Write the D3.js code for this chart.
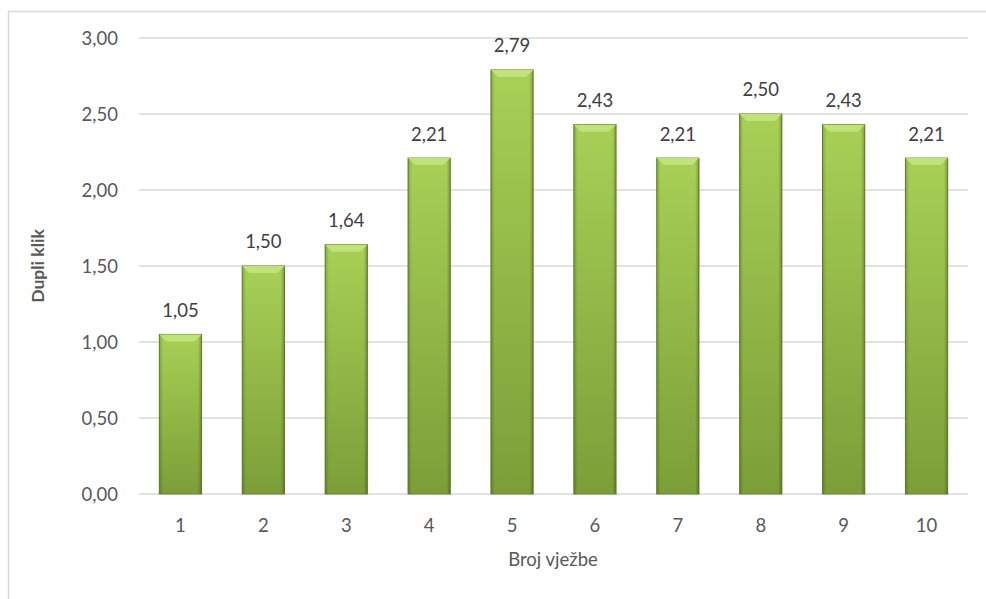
<!DOCTYPE html>
<html><head><meta charset="utf-8">
<script src="https://cdn.jsdelivr.net/npm/d3@7"></script>
<style>body{margin:0;background:#fff}svg{display:block}text{font-family:Lato,"Open Sans",sans-serif}</style>
</head><body>
<svg id="c" width="986" height="599"></svg>
<script>
const categories = ["1","2","3","4","5","6","7","8","9","10"];
const values = [1.05, 1.50, 1.64, 2.21, 2.79, 2.43, 2.21, 2.50, 2.43, 2.21];
const yTicks = [0, 0.5, 1, 1.5, 2, 2.5, 3];
const xTitle = "Broj vježbe";
const yTitle = "Dupli klik";

const svg = d3.select("#c");
const m = {l:139, r:968, t:38, b:494};
const fmt = v => d3.format(".2f")(v).replace(".", ",");
const FS = 18.5;

svg.append("rect").attr("x",8.5).attr("y",11.5).attr("width",1000).attr("height",1000)
  .attr("fill","#fff").attr("stroke","#d9d9d9").attr("stroke-width",1.5);

const x = d3.scaleBand().domain(categories).range([m.l, m.r]).paddingInner(0.49).paddingOuter(0.245);
const y = d3.scaleLinear().domain([0,3]).range([m.b, m.t]);

const defs = svg.append("defs");
const g1 = defs.append("linearGradient").attr("id","gv").attr("x1",0).attr("y1",0).attr("x2",0).attr("y2",1);
g1.append("stop").attr("offset","0%").attr("stop-color","#a8d056");
g1.append("stop").attr("offset","100%").attr("stop-color","#7c9e38");
const g2 = defs.append("linearGradient").attr("id","gh").attr("x1",0).attr("y1",0).attr("x2",1).attr("y2",0);
g2.append("stop").attr("offset","0%").attr("stop-color","#000").attr("stop-opacity",0.2);
g2.append("stop").attr("offset","9%").attr("stop-color","#000").attr("stop-opacity",0);
g2.append("stop").attr("offset","91%").attr("stop-color","#000").attr("stop-opacity",0);
g2.append("stop").attr("offset","100%").attr("stop-color","#000").attr("stop-opacity",0.25);

// gridlines
svg.append("g").selectAll("line").data(yTicks).join("line")
  .attr("x1",m.l).attr("x2",m.r).attr("y1",d=>y(d)).attr("y2",d=>y(d))
  .attr("stroke","#d9d9d9").attr("stroke-width",1.5);

// y labels
svg.append("g").selectAll("text").data(yTicks).join("text")
  .attr("x",118).attr("y",d=>y(d)+1).attr("dy","0.35em").attr("text-anchor","end")
  .attr("font-size",FS).attr("fill","#595959").text(fmt);

// bars
const bars = svg.append("g").selectAll("g").data(values).join("g");
bars.append("rect").attr("x",(d,i)=>x(categories[i])).attr("y",d=>y(d))
  .attr("width",x.bandwidth()).attr("height",d=>y(0)-y(d)).attr("fill","url(#gv)")
  .attr("stroke","#6a8a2e").attr("stroke-width",1);
bars.append("rect").attr("x",(d,i)=>x(categories[i])).attr("y",d=>y(d))
  .attr("width",x.bandwidth()).attr("height",d=>y(0)-y(d)).attr("fill","url(#gh)");
// bevel top
bars.append("path").attr("d",(d,i)=>{
  const x0=x(categories[i]), w=x.bandwidth(), y0=y(d), b=7;
  return `M${x0},${y0}L${x0+w},${y0}L${x0+w-b},${y0+b}L${x0+b},${y0+b}Z`;
}).attr("fill","#c4e37e").attr("opacity",0.9);

// value labels
svg.append("g").selectAll("text").data(values).join("text")
  .attr("x",(d,i)=>x(categories[i])+x.bandwidth()/2).attr("y",d=>y(d)-24).attr("dy","0.35em")
  .attr("text-anchor","middle").attr("font-size",FS).attr("fill","#404040").text(fmt);

// x labels
svg.append("g").selectAll("text").data(categories).join("text")
  .attr("x",d=>x(d)+x.bandwidth()/2).attr("y",526).attr("dy","0.35em")
  .attr("text-anchor","middle").attr("font-size",FS).attr("fill","#595959").text(d=>d);

svg.append("text").attr("x",553).attr("y",560).attr("dy","0.35em").attr("text-anchor","middle")
  .attr("font-size",FS).attr("fill","#595959").text(xTitle);
svg.append("text").attr("transform","translate(38,266) rotate(-90)").attr("dy","0.35em")
  .attr("text-anchor","middle").attr("font-size",FS-1).attr("font-weight","bold").attr("fill","#595959").text(yTitle);
</script>
</body></html>
